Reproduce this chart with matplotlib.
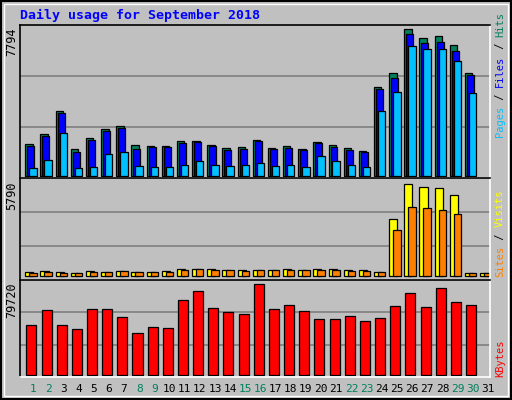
import matplotlib
matplotlib.use("Agg")
import matplotlib.pyplot as plt
import numpy as np

# ── data ──────────────────────────────────────────────────
days = list(range(1, 32))
hits = [1683, 2214, 3436, 1417, 2001, 2480, 2639, 1630, 1576, 1576, 1842, 1842, 1630, 1470, 1541, 1895,
        1470, 1576, 1417, 1789, 1630, 1470, 1311, 4711, 5455, 7794, 7315, 7421, 6943, 5455, 0]
files = [1576, 2108, 3330, 1258, 1895, 2373, 2533, 1417, 1523, 1523, 1736, 1789, 1576, 1364, 1417, 1842,
         1417, 1470, 1364, 1736, 1523, 1364, 1258, 4605, 5190, 7528, 7049, 7102, 6624, 5349, 0]
pages = [407, 832, 2267, 407, 461, 1151, 1258, 514, 461, 461, 567, 779, 567, 514, 567, 673,
         514, 567, 461, 1045, 779, 567, 461, 3436, 4446, 6890, 6731, 6731, 6093, 4393, 0]
visits = [252, 315, 252, 189, 315, 252, 315, 252, 252, 315, 441, 441, 441, 378, 378, 378,
          378, 441, 378, 441, 441, 378, 378, 252, 3587, 5790, 5601, 5538, 5097, 189, 189]
sites = [189, 252, 189, 189, 252, 252, 315, 252, 252, 252, 378, 441, 378, 378, 315, 378,
         378, 378, 378, 378, 378, 315, 315, 252, 2895, 4343, 4280, 4154, 3902, 189, 189]
kbytes = [43800, 56940, 43800, 40296, 57816, 57816, 50808, 36792, 42048, 41172, 65700, 73584, 58692,
          55188, 53436, 79720, 57816, 61320, 56064, 49056, 49056, 51684, 47304, 49932, 60444, 71832,
          59568, 76212, 63948, 61320, 0]
weekend = [1, 2, 8, 9, 15, 16, 22, 23, 29, 30]

BG = "#c0c0c0"
GREEN = "#00805c"
W, H = 512, 400
MONO = "DejaVu Sans Mono"

fig = plt.figure(figsize=(W / 100, H / 100), dpi=100, facecolor=BG)


def make_panel(top, bottom, base_px, max_px, vmax):
    """pixel rows -> axes with the same scale as the reference"""
    ax = fig.add_axes([20 / W, 1 - bottom / H, 470 / W, (bottom - top) / H])
    ax.set_facecolor(BG)
    per_px = vmax / (base_px - max_px)
    lo = -(bottom - base_px) * per_px
    hi = (base_px - top) * per_px
    ax.set_ylim(lo, hi)
    ax.set_xlim(0.14, 31.14)
    for f in (1 / 3, 2 / 3):
        ax.axhline(lo + (hi - lo) * f, color="#808080", lw=1.2, zorder=0)
    ax.set_xticks([])
    ax.set_yticks([])
    for s in ("left", "top"):
        ax.spines[s].set_color("black")
    for s in ("right", "bottom"):
        ax.spines[s].set_color("white")
    for s in ax.spines.values():
        s.set_linewidth(1.2)
    return ax


def bars(ax, offset, vals, width, color):
    # 값이 0인 날은 그리지 않음 (테두리만 남는 것 방지)
    xs = [d + offset for d, v in zip(days, vals) if v > 0]
    vs = [v for v in vals if v > 0]
    ax.bar(xs, vs, width, color=color, align="edge", edgecolor="black", linewidth=0.9)


ax1 = make_panel(25, 178, 176, 29.3, max(hits))
bars(ax1, -0.51, hits, 0.49, GREEN)
bars(ax1, -0.38, files, 0.46, "#0000ff")
bars(ax1, -0.25, pages, 0.49, "#00c0ff")

ax2 = make_panel(178, 280, 276.3, 184.3, max(visits))
bars(ax2, -0.51, visits, 0.53, "#ffff00")
bars(ax2, -0.25, sites, 0.49, "#ff8000")

ax3 = make_panel(280, 377, 375.3, 284.3, max(kbytes))
bars(ax3, -0.44, kbytes, 0.66, "#ff0000")

# day labels
for d in days:
    fig.text((20 + (d - 0.14) * 470 / 31) / W, 1 - 389 / H, str(d), ha="center", va="center",
             fontsize=8, family=MONO, color=GREEN if d in weekend else "black")

fig.text(20 / W, 1 - 15 / H, "Daily usage for September 2018", ha="left", va="center",
         fontsize=9.5, family=MONO, weight="bold", color="#0000ff")

# max labels on the left
for val, y in ((max(hits), 28), (max(visits), 181), (max(kbytes), 282)):
    fig.text(12 / W, 1 - y / H, str(val), rotation=90, ha="center", va="top",
             fontsize=8.5, family=MONO)

RFS = 7.5
STEP = RFS * 0.602 * 100 / 72  # monospace advance in px


def right_label(parts, y_bottom):
    # parts listed bottom -> top
    y = y_bottom
    for txt, col in parts:
        fig.text(500 / W, 1 - y / H, txt, rotation=90, ha="center", va="bottom",
                 fontsize=RFS, family=MONO, color=col)
        y -= len(txt) * STEP


right_label([("Pages", "#00c0ff"), (" / ", "black"), ("Files", "#0000ff"),
             (" / ", "black"), ("Hits", GREEN)], 137)
right_label([("Sites", "#ff8000"), (" / ", "black"), ("Visits", "#ffff00")], 277)
right_label([("KBytes", "#ff0000")], 377)

# outer frame
fig.patches.append(plt.Rectangle((0.002, 0.002), 0.996, 0.996, transform=fig.transFigure,
                                 fill=False, edgecolor="black", lw=1.5))
fig.patches.append(plt.Rectangle((4 / W, 4 / H), 504 / W, 392 / H, transform=fig.transFigure,
                                 fill=False, edgecolor="white", lw=1))

fig.savefig("out.png", dpi=100, facecolor=BG)
